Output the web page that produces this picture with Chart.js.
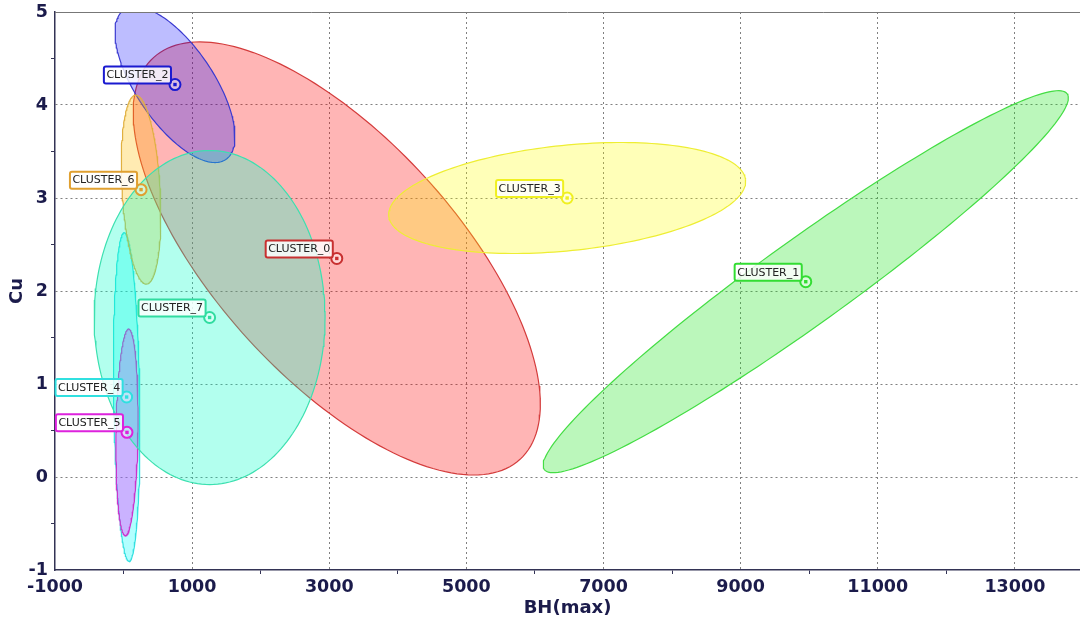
<!DOCTYPE html>
<html>
<head>
<meta charset="utf-8">
<script src="https://cdn.jsdelivr.net/npm/chart.js@4/dist/chart.umd.min.js"></script>
<style>
html,body{margin:0;padding:0;background:#fff;}
#wrap{width:1080px;height:622px;position:relative;}
</style>
</head>
<body>
<div id="wrap"><canvas id="c" width="1080" height="622"></canvas></div>
<script>
// ---- data ----
const clusterNames = ['CLUSTER_0','CLUSTER_1','CLUSTER_2','CLUSTER_3','CLUSTER_4','CLUSTER_5','CLUSTER_6','CLUSTER_7'];
const centerX = [3110, 9950, 750, 6470, 45, 50, 255, 1255];
const centerY = [2.35, 2.10, 4.22, 3.00, 0.86, 0.48, 3.09, 1.715];
// ellipse conjugate half-axes (data units)
const axisAX = [2673, 3813, 741, 2602, 36, -24, 80, 0];
const axisAY = [-2.160, 2.020, -0.806, 0.195, -1.767, -1.111, -1.016, -1.796];
const axisBX = [-1292, 362, -465, 78, -190, -160, -277, 1684];
const axisBY = [-0.870, -0.371, -0.232, -0.564, -0.002, 0.002, -0.012, 0];
const xTicks = [-1000,0,1000,2000,3000,4000,5000,6000,7000,8000,9000,10000,11000,12000,13000];
const xLabelled = [-1000,1000,3000,5000,7000,9000,11000,13000];
const yTicks = [-1,-0.5,0,0.5,1,1.5,2,2.5,3,3.5,4,4.5,5];
const yLabelled = [-1,0,1,2,3,4,5];

// ---- styles ----
const fillColors = ['rgba(255,0,0,0.29)','rgba(30,230,30,0.3)','rgba(0,0,255,0.26)','rgba(255,255,0,0.28)',
  'rgba(0,255,255,0.3)','rgba(255,0,255,0.3)','rgba(255,190,0,0.3)','rgba(0,255,200,0.3)'];
const strokeColors = ['#d43c3c','#44dd44','#3a3ad0','#eeee33','#33e0e0','#cc33cc','#e0b040','#3ce0b0'];
const labelColors = ['#c83030','#33dd33','#1a1ad0','#f0f020','#30e0e0','#dd22dd','#e0a030','#30dca0'];
const inkColor = '#1b1b4b';

function ellipsePoints(i){
  const pts = [];
  const n = 180;
  for (let k = 0; k <= n; k++){
    const t = 2*Math.PI*k/n;
    pts.push({x: centerX[i] + axisAX[i]*Math.cos(t) + axisBX[i]*Math.sin(t),
              y: centerY[i] + axisAY[i]*Math.cos(t) + axisBY[i]*Math.sin(t)});
  }
  return pts;
}

const datasets = [];
for (let i = 0; i < clusterNames.length; i++){
  datasets.push({
    label: clusterNames[i] + ' ellipse',
    data: ellipsePoints(i),
    showLine: true, fill: 'shape', tension: 0,
    backgroundColor: fillColors[i], borderColor: strokeColors[i], borderWidth: 1.2,
    pointRadius: 0, order: 20 - i
  });
}
for (let i = 0; i < clusterNames.length; i++){
  datasets.push({
    label: clusterNames[i],
    data: [{x: centerX[i], y: centerY[i]}],
    showLine: false, pointStyle: 'circle', pointRadius: 5.5,
    pointBorderWidth: 2, pointBorderColor: labelColors[i], pointBackgroundColor: 'rgba(255,255,255,0.45)',
    order: 1
  });
  datasets.push({
    label: clusterNames[i] + ' dot',
    data: [{x: centerX[i], y: centerY[i]}],
    showLine: false, pointStyle: 'rect', pointRadius: 2.4,
    pointBorderWidth: 0, pointBackgroundColor: labelColors[i],
    order: 0
  });
}

const labelPlugin = {
  id: 'clusterLabels',
  afterDatasetsDraw(chart){
    const ctx = chart.ctx, xs = chart.scales.x, ys = chart.scales.y;
    ctx.save();
    ctx.font = '11px "DejaVu Sans"';
    for (let i = 0; i < clusterNames.length; i++){
      const px = xs.getPixelForValue(centerX[i]);
      const py = ys.getPixelForValue(centerY[i]);
      const w = ctx.measureText(clusterNames[i]).width + 5;
      const h = 17;
      const right = px - 4, bottom = py - 1;
      const left = right - w, top = bottom - h;
      ctx.beginPath();
      if (ctx.roundRect) ctx.roundRect(left, top, w, h, 2); else ctx.rect(left, top, w, h);
      ctx.fillStyle = 'rgba(255,255,255,0.82)';
      ctx.fill();
      ctx.lineWidth = 2;
      ctx.strokeStyle = labelColors[i];
      ctx.stroke();
      ctx.fillStyle = '#222';
      ctx.textBaseline = 'middle';
      ctx.textAlign = 'left';
      ctx.fillText(clusterNames[i], left + 2.5, top + h/2 + 0.5);
    }
    ctx.restore();
  }
};

const topBorder = {
  id: 'topBorder',
  afterDraw(chart){
    const a = chart.chartArea, ctx = chart.ctx;
    ctx.save();
    ctx.strokeStyle = '#777';
    ctx.lineWidth = 1;
    ctx.beginPath();
    ctx.moveTo(a.left, a.top + 0.5);
    ctx.lineTo(a.right, a.top + 0.5);
    ctx.stroke();
    ctx.restore();
  }
};

const tickFont = {family: 'DejaVu Sans', size: 17.5, weight: 'bold'};

new Chart(document.getElementById('c'), {
  type: 'scatter',
  data: {datasets},
  plugins: [labelPlugin, topBorder],
  options: {
    responsive: false, animation: false, events: [],
    layout: {autoPadding: false, padding: {top: 12, right: 0, left: 0, bottom: 0}},
    plugins: {legend: {display: false}, tooltip: {enabled: false}},
    scales: {
      x: {
        type: 'linear', min: -1000, max: 13950,
        afterBuildTicks(s){ s.ticks = xTicks.map(v => ({value: v})); },
        afterFit(s){ s.height = 52; s.paddingLeft = 0; s.paddingRight = 0; },
        ticks: {
          autoSkip: false, maxRotation: 0, padding: 3, color: inkColor, font: tickFont,
          callback: (v) => xLabelled.includes(v) ? String(v) : ''
        },
        grid: {
          color: (c) => (c.tick && xLabelled.includes(c.tick.value) && c.tick.value !== -1000) ? '#808080' : 'rgba(0,0,0,0)',
          tickColor: (c) => (c.tick && xLabelled.includes(c.tick.value)) ? 'rgba(0,0,0,0)' : '#333355',
          tickLength: 4, lineWidth: 1
        },
        border: {display: true, color: '#333355', width: 1.5, dash: [2, 3]},
        title: {display: true, text: 'BH(max)', color: inkColor, font: {family: 'DejaVu Sans', size: 18, weight: 'bold'}, padding: {top: 0, bottom: 3}}
      },
      y: {
        type: 'linear', min: -1, max: 5,
        afterBuildTicks(s){ s.ticks = yTicks.map(v => ({value: v})); },
        afterFit(s){ s.width = 55; s.paddingTop = 0; s.paddingBottom = 0; },
        ticks: {
          autoSkip: false, padding: 3, color: inkColor, font: tickFont,
          callback: (v) => yLabelled.includes(v) ? String(v) : ''
        },
        grid: {
          color: (c) => (c.tick && yLabelled.includes(c.tick.value) && c.tick.value !== -1 && c.tick.value !== 5) ? '#808080' : 'rgba(0,0,0,0)',
          tickColor: (c) => (c.tick && yLabelled.includes(c.tick.value)) ? 'rgba(0,0,0,0)' : '#333355',
          tickLength: 4, lineWidth: 1
        },
        border: {display: true, color: '#333355', width: 1.5, dash: [2, 3]},
        title: {display: true, text: 'Cu', color: inkColor, font: {family: 'DejaVu Sans', size: 18, weight: 'bold'}, padding: {top: 7, bottom: 0}}
      }
    }
  }
});
</script>
</body>
</html>
